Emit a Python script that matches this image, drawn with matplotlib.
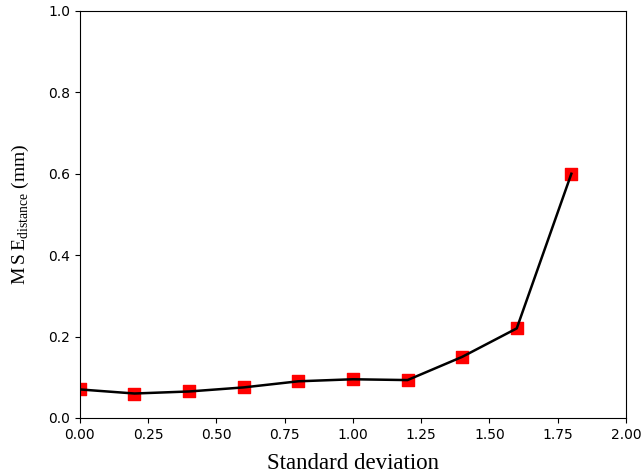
import matplotlib
matplotlib.use("Agg")
import matplotlib.pyplot as plt

# standard deviation of the added noise vs. distance error
std_dev = [0.0, 0.2, 0.4, 0.6, 0.8, 1.0, 1.2, 1.4, 1.6, 1.8]
mse_distance = [0.070, 0.060, 0.065, 0.075, 0.090, 0.095, 0.093, 0.150, 0.220, 0.600]

plt.rcParams["mathtext.fontset"] = "custom"
plt.rcParams["mathtext.rm"] = "Liberation Serif"

fig, ax = plt.subplots(figsize=(6.44, 4.76), dpi=100)
fig.subplots_adjust(left=0.124, right=0.972, top=0.977, bottom=0.122)

ax.scatter(std_dev, mse_distance, marker="s", s=70, color="red", zorder=2)
ax.plot(std_dev, mse_distance, color="black", linewidth=1.8, zorder=3)

ax.set_xlim(0, 2)
ax.set_ylim(0, 1)
ax.set_xlabel("Standard deviation", family="Liberation Serif", fontsize=16.5, labelpad=8)
ax.set_ylabel(r"$\mathrm{M\,S\,E}_{\mathrm{distance}}$ (mm)", family="Liberation Serif",
              fontsize=14, labelpad=12)

plt.savefig("out.png", dpi=100)
